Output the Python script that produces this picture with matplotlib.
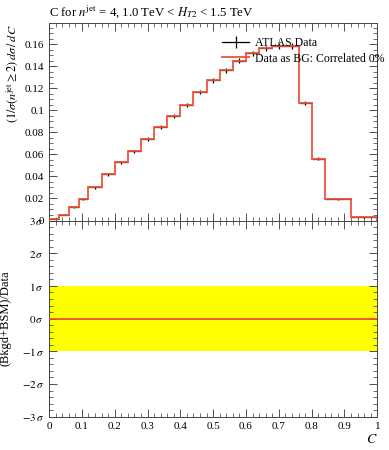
import numpy as np
import matplotlib
matplotlib.use("Agg")
import matplotlib.pyplot as plt
from matplotlib.ticker import MultipleLocator, FixedLocator
from matplotlib.lines import Line2D

plt.rcParams['font.family'] = 'serif'
plt.rcParams['font.serif'] = ['Liberation Serif', 'DejaVu Serif']
plt.rcParams['mathtext.fontset'] = 'stix'

# C parameter binning and normalised distribution
edges = [0.0, 0.03, 0.06, 0.09, 0.12, 0.16, 0.20, 0.24, 0.28, 0.32, 0.36, 0.40,
         0.44, 0.48, 0.52, 0.56, 0.60, 0.64, 0.68, 0.72, 0.76, 0.80, 0.84, 0.92, 1.0]
data_vals = [0.0017, 0.0053, 0.0119, 0.0197, 0.0302, 0.0420, 0.0528, 0.0627,
             0.0738, 0.0849, 0.0948, 0.1050, 0.1167, 0.1274, 0.1365, 0.1450,
             0.1518, 0.1563, 0.1587, 0.1587, 0.1067, 0.0560, 0.0194, 0.0029]
data_err = [0.0005, 0.0007, 0.0010, 0.0010, 0.0012, 0.0013, 0.0015, 0.0016,
            0.0017, 0.0018, 0.0020, 0.0020, 0.0022, 0.0022, 0.0023, 0.0024,
            0.0024, 0.0025, 0.0025, 0.0025, 0.0022, 0.0015, 0.0008, 0.0005]
bg_vals = data_vals  # data used as background
pull = [0.0] * len(data_vals)

title = r"C for $n^{\rm jet}$ = 4, 1.0 TeV < $H_{T2}$ < 1.5 TeV"
red = '#ef4f36'

edges_a = np.array(edges)
centres = 0.5 * (edges_a[1:] + edges_a[:-1])
halfw = 0.5 * (edges_a[1:] - edges_a[:-1])

fig = plt.figure(figsize=(3.89, 4.5), dpi=100)
ax1 = fig.add_axes([0.126, 0.510, 0.844, 0.438])
ax2 = fig.add_axes([0.126, 0.074, 0.844, 0.436])

# main panel
ax1.errorbar(centres, data_vals, xerr=halfw, yerr=data_err, fmt='none',
             ecolor='black', elinewidth=0.9, zorder=2)
ax1.stairs(bg_vals, edges, color=red, lw=1.4, alpha=0.9, zorder=3)
ax1.set_xlim(0, 1)
ax1.set_ylim(0, 0.179)
ax1.yaxis.set_major_locator(FixedLocator([0, 0.02, 0.04, 0.06, 0.08, 0.1, 0.12, 0.14, 0.16]))
ax1.set_yticklabels(['0', '0.02', '0.04', '0.06', '0.08', '0.1', '0.12', '0.14', '0.16'])
ax1.yaxis.set_minor_locator(MultipleLocator(0.005))
ax1.xaxis.set_major_locator(MultipleLocator(0.1))
ax1.xaxis.set_minor_locator(MultipleLocator(0.02))
ax1.tick_params(labelbottom=False)
fig.text(49 / 389, 1 - 12 / 450, title, fontsize=9.2, ha='left', va='center')
fig.text(12 / 389, 1 - 25 / 450,
         r"$(1/\sigma(n^{\rm jet} \geq 2)\,d\sigma\,/\,dC$",
         fontsize=8.8, rotation=90, ha='center', va='top')

h_data = Line2D([], [], color='black', lw=0.9, marker='|', markersize=8,
                markeredgewidth=0.9)
h_bg = Line2D([], [], color=red, lw=1.4, alpha=0.9)
fig.legend([h_data, h_bg], ['ATLAS Data', 'Data as BG: Correlated 0%'],
           loc='upper left', bbox_to_anchor=(222 / 389, 1 - 37 / 450),
           frameon=False, fontsize=8.5, handlelength=2.3, handletextpad=0.5,
           labelspacing=0.3, borderpad=0.0, borderaxespad=0.0)

# ratio panel
ax2.fill_between([0, 1], -1, 1, color='#ffff00', lw=0, zorder=1)
ax2.stairs(pull, edges, color=red, lw=1.3, zorder=3, baseline=None)
ax2.set_xlim(0, 1)
ax2.set_ylim(-3, 3)
ax2.yaxis.set_minor_locator(MultipleLocator(0.2))
ax2.set_yticks([-3, -2, -1, 0, 1, 2, 3])
ax2.set_yticklabels([r'$-3\,\sigma$', r'$-2\,\sigma$', r'$-1\,\sigma$', r'$0\,\sigma$',
                     r'$1\,\sigma$', r'$2\,\sigma$', r'$3\,\sigma$'])
ax2.xaxis.set_minor_locator(MultipleLocator(0.02))
ax2.set_xticks(np.arange(0, 1.01, 0.1))
ax2.set_xticklabels(['0', '0.1', '0.2', '0.3', '0.4', '0.5', '0.6', '0.7', '0.8', '0.9', '1'])
ax2.set_ylabel('(Bkgd+BSM)/Data', fontsize=9)
ax2.set_xlabel(r'$C$', fontsize=10, loc='right', labelpad=2)

for ax in (ax1, ax2):
    ax.tick_params(which='both', direction='in', top=True, right=True,
                   labelsize=8, colors='#333333', labelcolor='black')
    ax.tick_params(which='major', length=6, width=0.6)
    ax.tick_params(which='minor', length=3, width=0.5)
    for s in ax.spines.values():
        s.set_linewidth(0.7)
        s.set_color('#444444')

ax2.yaxis.set_label_coords(-0.115, 0.5)

fig.savefig('out.png', dpi=100)
